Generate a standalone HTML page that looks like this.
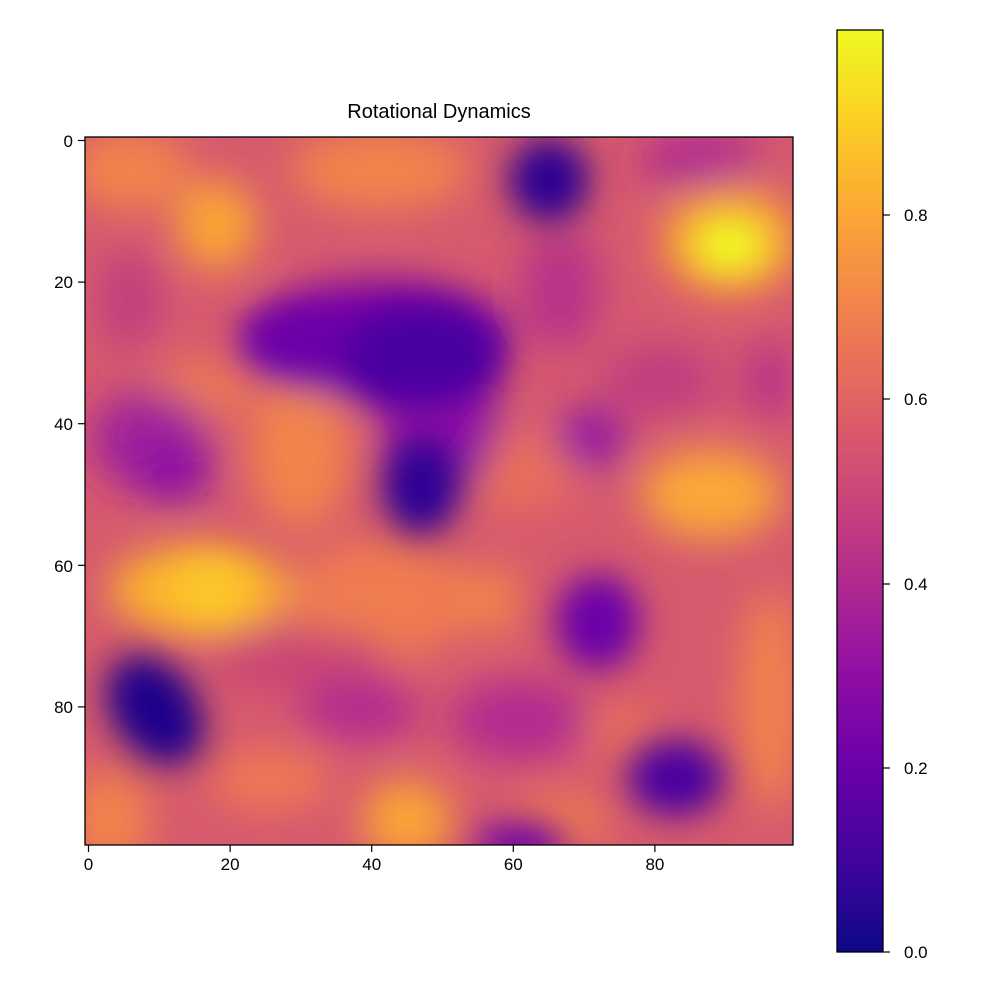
<!DOCTYPE html>
<html><head><meta charset="utf-8"><style>
body{margin:0;background:#fff;}
svg{display:block;font-family:"Liberation Sans","DejaVu Sans",sans-serif;}
</style></head><body>
<svg width="1000" height="1000" viewBox="0 0 1000 1000" xmlns="http://www.w3.org/2000/svg">
<defs>
<clipPath id="c"><rect x="85" y="137" width="708" height="708"/></clipPath>
<filter id="b" x="-20%" y="-20%" width="140%" height="140%"><feGaussianBlur stdDeviation="20"/></filter>
<filter id="b2" x="-50%" y="-50%" width="200%" height="200%"><feGaussianBlur stdDeviation="17"/></filter>
<linearGradient id="pl" x1="0" y1="1" x2="0" y2="0">
<stop offset="0" stop-color="#0d0887"/><stop offset="0.1" stop-color="#41049d"/>
<stop offset="0.2" stop-color="#6a00a8"/><stop offset="0.3" stop-color="#8f0da4"/>
<stop offset="0.4" stop-color="#b12a90"/><stop offset="0.5" stop-color="#cc4778"/>
<stop offset="0.6" stop-color="#e16462"/><stop offset="0.7" stop-color="#f2844b"/>
<stop offset="0.8" stop-color="#fca636"/><stop offset="0.9" stop-color="#fcce25"/>
<stop offset="1" stop-color="#f0f921"/></linearGradient>
</defs>
<text x="439" y="118" font-size="20" text-anchor="middle">Rotational Dynamics</text>
<g clip-path="url(#c)">
<rect x="60" y="110" width="760" height="760" fill="#d65a6e"/>
<g filter="url(#b)">
<ellipse cx="380" cy="170" rx="90" ry="40" fill="#f2844b"/>
<ellipse cx="130" cy="170" rx="60" ry="40" fill="#f2844b"/>
<ellipse cx="216" cy="225" rx="40" ry="45" fill="#fca636"/>
<ellipse cx="730" cy="240" rx="70" ry="55" fill="#f9a23a"/>
<ellipse cx="300" cy="450" rx="50" ry="80" fill="#f2844b"/>
<ellipse cx="200" cy="390" rx="50" ry="30" fill="#ee7a52"/>
<ellipse cx="520" cy="470" rx="60" ry="40" fill="#e8705a"/>
<ellipse cx="711" cy="494" rx="70" ry="45" fill="#fba838"/>
<ellipse cx="200" cy="590" rx="90" ry="45" fill="#fcb52f"/>
<ellipse cx="380" cy="600" rx="90" ry="60" fill="#ef7d50"/>
<ellipse cx="490" cy="600" rx="30" ry="35" fill="#f2844b"/>
<ellipse cx="407" cy="820" rx="45" ry="40" fill="#fca636"/>
<ellipse cx="270" cy="780" rx="60" ry="30" fill="#ee7a52"/>
<ellipse cx="770" cy="700" rx="30" ry="110" fill="#f2844b"/>
<ellipse cx="110" cy="820" rx="40" ry="50" fill="#f2844b"/>
<ellipse cx="560" cy="820" rx="50" ry="25" fill="#ef7d50"/>
<ellipse cx="620" cy="730" rx="40" ry="25" fill="#e8705a"/>
<ellipse cx="700" cy="160" rx="60" ry="30" fill="#b12a90"/>
<ellipse cx="560" cy="290" rx="40" ry="60" fill="#b83389"/>
<ellipse cx="130" cy="300" rx="30" ry="50" fill="#c03e80"/>
<ellipse cx="150" cy="440" rx="60" ry="50" fill="#a0209a"/>
<ellipse cx="173" cy="473" rx="40" ry="30" fill="#8a0ba5"/>
<ellipse cx="660" cy="380" rx="60" ry="35" fill="#c03e80"/>
<ellipse cx="591" cy="438" rx="35" ry="30" fill="#8f0da4"/>
<ellipse cx="300" cy="660" rx="90" ry="30" fill="#c94575"/>
<ellipse cx="360" cy="710" rx="60" ry="30" fill="#b12a90"/>
<ellipse cx="520" cy="720" rx="70" ry="40" fill="#b12a90"/>
<ellipse cx="770" cy="380" rx="25" ry="40" fill="#b83389"/>
<ellipse cx="440" cy="420" rx="60" ry="70" fill="#8f0da4"/>
<ellipse cx="380" cy="340" rx="130" ry="60" fill="#7a06a7"/>
</g>
<g filter="url(#b2)">
<ellipse cx="549" cy="180" rx="40" ry="42" fill="#2a0593"/>
<ellipse cx="300" cy="340" rx="60" ry="30" fill="#6a00a8"/>
<ellipse cx="420" cy="355" rx="80" ry="50" fill="#4a02a0"/>
<ellipse cx="421" cy="487" rx="38" ry="48" fill="#2c0594"/>
<ellipse cx="598" cy="622" rx="42" ry="48" fill="#6a00a8"/>
<ellipse cx="676" cy="778" rx="48" ry="38" fill="#4a02a0"/>
<ellipse cx="520" cy="845" rx="45" ry="22" fill="#6a00a8"/>
<ellipse cx="155" cy="710" rx="42" ry="60" transform="rotate(-35 155 710)" fill="#1a068a"/>
<ellipse cx="730" cy="245" rx="38" ry="28" fill="#f0f921"/>
<ellipse cx="210" cy="590" rx="38" ry="28" fill="#fcc829"/>
</g>
</g>
<rect x="85" y="137" width="708" height="708" fill="none" stroke="#000" stroke-width="1.3"/>
<g font-size="17" fill="#000">
<g stroke="#000" stroke-width="1.2">
<line x1="88.5" y1="845" x2="88.5" y2="852"/><line x1="230.1" y1="845" x2="230.1" y2="852"/>
<line x1="371.7" y1="845" x2="371.7" y2="852"/><line x1="513.3" y1="845" x2="513.3" y2="852"/>
<line x1="654.9" y1="845" x2="654.9" y2="852"/>
<line x1="78" y1="140.5" x2="85" y2="140.5"/><line x1="78" y1="282.1" x2="85" y2="282.1"/>
<line x1="78" y1="423.7" x2="85" y2="423.7"/><line x1="78" y1="565.3" x2="85" y2="565.3"/>
<line x1="78" y1="706.9" x2="85" y2="706.9"/>
</g>
<g text-anchor="middle">
<text x="88.5" y="870">0</text><text x="230.1" y="870">20</text><text x="371.7" y="870">40</text>
<text x="513.3" y="870">60</text><text x="654.9" y="870">80</text>
</g>
<g text-anchor="end">
<text x="73" y="147">0</text><text x="73" y="288">20</text><text x="73" y="430">40</text>
<text x="73" y="572">60</text><text x="73" y="713">80</text>
</g>
</g>
<rect x="837" y="30" width="46" height="922" fill="url(#pl)" stroke="#000" stroke-width="1.3"/>
<g stroke="#000" stroke-width="1.2">
<line x1="883" y1="952" x2="890" y2="952"/><line x1="883" y1="768" x2="890" y2="768"/>
<line x1="883" y1="584" x2="890" y2="584"/><line x1="883" y1="399" x2="890" y2="399"/>
<line x1="883" y1="215" x2="890" y2="215"/>
</g>
<g font-size="17">
<text x="904" y="958">0.0</text><text x="904" y="774">0.2</text><text x="904" y="590">0.4</text>
<text x="904" y="405">0.6</text><text x="904" y="221">0.8</text>
</g>
</svg>
</body></html>
